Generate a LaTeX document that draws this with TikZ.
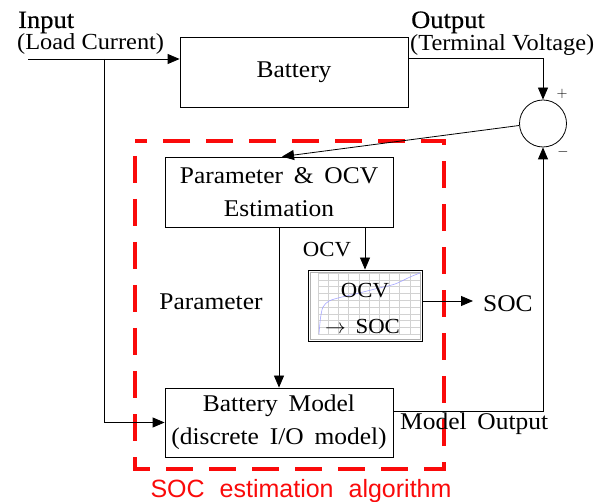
\documentclass[tikz,border=0pt]{standalone}
\usepackage{fontspec}
\setmainfont{Liberation Serif}[FakeStretch=1.06]
\newfontfamily\headfam{Liberation Serif}[FakeStretch=1.06,FakeBold=0.45]
\newfontfamily\labelsans{Liberation Sans}
\usetikzlibrary{arrows.meta}
\definecolor{algred}{RGB}{250,10,10}
\newcommand\bodyfont{\fontsize{24}{33}\selectfont\spaceskip=0.45em\relax}
\newcommand\ocvfont{\fontsize{21.5}{26}\selectfont\spaceskip=0.45em\relax}
\newcommand\headfont{\headfam\fontsize{25}{30}\selectfont}
\newcommand\smallbodyfont{\fontsize{23}{28}\selectfont}
\newcommand\algfont{\labelsans\fontsize{25}{30}\selectfont\spaceskip=0.6em\relax}
\begin{document}
\begin{tikzpicture}[x=1pt,y=-1pt,
  txt/.style={font=\bodyfont, inner sep=0pt},
  ocvtxt/.style={font=\ocvfont, inner sep=0pt},
  headtxt/.style={font=\headfont, inner sep=0pt},
  smalltxt/.style={font=\smallbodyfont, inner sep=0pt},
  blk/.style={draw, line width=0.8pt, minimum width=228pt, minimum height=70pt, inner sep=0pt, align=center, txt},
  conn/.style={line width=0.8pt},
  arr/.style={conn, -{Triangle[length=12pt,width=10pt]}},
  grid line/.style={gray!35, line width=0.3pt},
]
\useasboundingbox (0,0) rectangle (613,502);

% blocks
\node[blk] (battery) at (294,72) {Battery};
\node[blk] (param) at (279,192) {Parameter \& OCV\\Estimation};
\node[blk, minimum height=69pt] (model) at (279,422.5) {Battery Model\\(discrete I/O model)};
\node[draw, circle, minimum size=47pt, inner sep=0pt, line width=0.8pt] (sum) at (543,123.5) {};

% OCV -> SOC chart box
\node[draw, line width=0.9pt, minimum width=114pt, minimum height=71pt, inner sep=0pt, fill=white] (ocvbox) at (365,305.5) {};
\begin{scope}
  \foreach \i in {0,...,10} \draw[grid line] ({318+\i*10.2},273) -- ({318+\i*10.2},334);
  \foreach \j in {0,...,9} \draw[grid line] (318,{273+\j*6.8}) -- (420,{273+\j*6.8});
  \draw[gray!60, line width=0.3pt] (310,272) rectangle (420.5,339);
  \draw[blue!35, line width=0.6pt] plot[smooth] coordinates {(319,334) (320.5,318) (323,307) (329,301) (340,297.5) (355,294) (375,289) (395,284) (410,277) (420,273)};
\end{scope}
\node[ocvtxt, anchor=base] (ocvin) at (365,298) {OCV};
\node[ocvtxt, anchor=base west] (socin) at (325,334) {$\rightarrow$ SOC};

% dashed algorithm frame
\draw[algred, line width=3.8pt, dash pattern=on 27pt off 16pt, dash phase=28pt] (135,141) rectangle (444,469);
\node[font=\algfont, text=algred, inner sep=0pt, anchor=base] (alglabel) at (301,497) {SOC estimation algorithm};

% labels
\node[headtxt, anchor=base west] (inlbl) at (18,28) {Input};
\node[smalltxt, anchor=base west] (inlbl2) at (17,50) {(Load Current)};
\node[headtxt, anchor=base west] (outlbl) at (411,28) {Output};
\node[smalltxt, anchor=base west] (outlbl2) at (410,51) {(Terminal Voltage)};
\node[font=\fontsize{15}{18}\selectfont, inner sep=0pt] (plus) at (562,94) {$+$};
\node[font=\fontsize{15}{18}\selectfont, inner sep=0pt] (minus) at (563,152) {$-$};
\node[ocvtxt, anchor=base] (ocvlbl) at (327,257) {OCV};
\node[txt, anchor=base] (paramlbl) at (211,310) {Parameter};
\node[txt, anchor=base west] (molbl) at (400,429) {Model Output};
\node[txt, anchor=base west] (soc) at (483,312) {SOC};

% connectors
\coordinate (in) at (28,59);
\coordinate (br) at (104,59);
\coordinate (outc) at (543,58);
\coordinate (moc) at (543,411);
\coordinate (socend) at (473,301);
\draw[arr] (in) -- (in -| battery.west);
\draw[arr] (br) |- (model.west);
\draw[arr] (outc -| battery.east) -- (outc) -- (sum.north);
\draw[arr] ([yshift=-2pt]sum.west) -- ([xshift=3pt]param.north);
\draw[arr] (param.south) -- (model.north);
\draw[arr] (param.south -| ocvbox.north) -- (ocvbox.north);
\draw[arr] (socend -| ocvbox.east) -- (socend);
\draw[arr] (moc -| model.east) -- (moc) -- (sum.south);
\end{tikzpicture}
\end{document}
